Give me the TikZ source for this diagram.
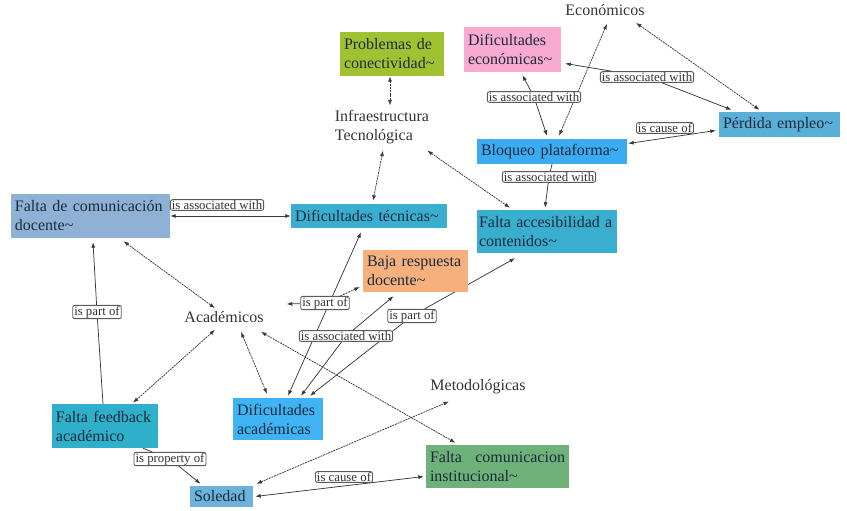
\documentclass[tikz,border=0pt]{standalone}
\usepackage{fontspec}
\setmainfont{Liberation Serif}
\usetikzlibrary{arrows.meta,backgrounds}
\definecolor{boxtext}{HTML}{1B2B3B}
\definecolor{plaintext}{HTML}{333333}
\definecolor{linec}{HTML}{3A3A3A}
\definecolor{lblborder}{HTML}{5A5A5A}
\definecolor{cprob}{HTML}{A0C132}
\definecolor{cpink}{HTML}{F8AAD0}
\definecolor{cbloq}{HTML}{3CACF2}
\definecolor{cperd}{HTML}{5AAFD6}
\definecolor{cteal}{HTML}{3AAECF}
\definecolor{cfcd}{HTML}{8FB1D6}
\definecolor{cbaja}{HTML}{F5B07E}
\definecolor{cffb}{HTML}{30AFCB}
\definecolor{cdacad}{HTML}{3FB3F4}
\definecolor{cfci}{HTML}{6EB27A}
\definecolor{csol}{HTML}{6CB2DA}
\begin{document}
\begin{tikzpicture}[x=1pt,y=-1pt,
  >={Latex[length=5.5pt,width=4pt]},
  box/.style={rectangle, inner xsep=4pt, inner ysep=2pt, align=left,
    font=\fontsize{16}{19}\selectfont, text=boxtext},
  plain/.style={inner sep=1pt, align=left,
    font=\fontsize{16}{19}\selectfont, text=plaintext},
  lbl/.style={draw=lblborder, line width=0.9pt, rounded corners=2pt, fill=white,
    inner xsep=1.5pt, inner ysep=0.8pt, font=\fontsize{12.8}{14}\selectfont, text=plaintext},
  con/.style={draw=linec, line width=0.75pt},
  dotcon/.style={con, dash pattern=on 2pt off 0.8pt}
]
\useasboundingbox (0,0) rectangle (847,511);

% concept boxes
\node[box, fill=cprob, minimum width=104pt, text width=96pt, minimum height=44pt] (prob) at (392,54) {Problemas de\\conectividad\textasciitilde};
\node[box, fill=cpink, minimum width=97pt, text width=89pt, minimum height=45pt] (difeco) at (512.5,49.5) {Dificultades\\económicas\textasciitilde};
\node[box, fill=cbloq, minimum width=150pt, text width=142pt, minimum height=25pt] (bloq) at (552,151.5) {Bloqueo plataforma\textasciitilde};
\node[box, fill=cperd, minimum width=121pt, text width=113pt, minimum height=25pt] (perd) at (779.5,124.5) {Pérdida empleo\textasciitilde};
\node[box, fill=cteal, minimum width=140pt, text width=136pt, inner xsep=2pt, minimum height=43pt] (facc) at (547,231.5) {\mbox{Falta accesibilidad a}\\contenidos\textasciitilde};
\node[box, fill=cfcd, minimum width=159pt, text width=151pt, minimum height=44pt] (fcd) at (90.5,216) {Falta de comunicación\\docente\textasciitilde};
\node[box, fill=cteal, minimum width=156pt, text width=148pt, minimum height=24pt] (dtec) at (369,216) {Dificultades técnicas\textasciitilde};
\node[box, fill=cbaja, minimum width=105pt, text width=97pt, minimum height=42pt] (baja) at (415.5,271) {Baja respuesta\\docente\textasciitilde};
\node[box, fill=cffb, minimum width=106pt, text width=98pt, minimum height=44pt] (ffb) at (105,426) {Falta feedback\\académico};
\node[box, fill=cdacad, minimum width=90pt, text width=82pt, minimum height=42pt] (dacad) at (278,419) {Dificultades\\académicas};
\node[box, fill=cfci, minimum width=143pt, text width=135pt, minimum height=43pt] (fci) at (497.5,466.5) {Falta\hfill comunicacion\\institucional\textasciitilde};
\node[box, fill=csol, minimum width=63pt, text width=55pt, minimum height=21pt] (sol) at (221.5,496.5) {Soledad};

% plain concepts
\node[plain] (infra) at (382,127.5) {Infraestructura\\Tecnológica};
\node[plain] (eco) at (605,10) {Económicos};
\node[plain] (acad) at (224,317) {Académicos};
\node[plain] (met) at (478,387) {Metodológicas};

% linking phrases
\node[lbl] (l1) at (217,205) {is associated with};
\node[lbl] (l2) at (534,97) {is associated with};
\node[lbl] (l3) at (647,77) {is associated with};
\node[lbl] (l4) at (665,128) {is cause of};
\node[lbl] (l5) at (549,177) {is associated with};
\node[lbl] (l6) at (97,312) {is part of};
\node[lbl] (l7) at (325,303) {is part of};
\node[lbl] (l8) at (346,336) {is associated with};
\node[lbl] (l9) at (412,316) {is part of};
\node[lbl] (l10) at (170,459) {is property of};
\node[lbl] (l11) at (344,477) {is cause of};

% connectors (behind labels)
\begin{scope}[on background layer]
% cross links
\draw[dotcon,<->] ([xshift=-2pt]prob.south) -- ([xshift=8pt,yshift=4pt]infra.north);
\draw[dotcon,<->] ([xshift=1pt,yshift=-5pt]infra.south) -- ([xshift=4pt,yshift=3pt]dtec.north);
\draw[dotcon,<->] ([xshift=-3pt,yshift=-5pt]infra.south east) -- ([xshift=-37pt,yshift=2pt]facc.north);
\draw[dotcon,<->] ([xshift=2pt,yshift=-7pt]eco.south) -- ([xshift=7pt,yshift=3pt]bloq.north);
\draw[dotcon,<->] ([xshift=31pt,yshift=-6pt]eco.south) -- ([xshift=-20pt,yshift=2pt]perd.north);
\draw[dotcon,<->] ([xshift=33pt,yshift=-3pt]fcd.south) -- ([xshift=-9pt,yshift=2pt]acad.north);
\draw[dotcon,<->] ([xshift=-9pt,yshift=-6pt]acad.south) -- ([xshift=28pt,yshift=1pt]ffb.north);
\draw[dotcon,<->] ([xshift=17pt,yshift=-8pt]acad.south) -- ([xshift=-11pt,yshift=4pt]dacad.north);
\draw[dotcon,<->] ([xshift=37pt,yshift=-8pt]acad.south) -- ([xshift=-42pt,yshift=2pt]fci.north);
\draw[dotcon,<->] ([xshift=35pt,yshift=2pt]sol.north) -- ([xshift=-29pt,yshift=-6pt]met.south);
\draw[con,<->] ([xshift=10pt,yshift=2pt]dacad.north) -- ([xshift=-8pt,yshift=-4pt]dtec.south);
% linked propositions
\draw[con,<->] (fcd.east) -- (dtec.west);
\draw[con,<-] ([xshift=10pt,yshift=-3pt]difeco.south) -- (l2);
\draw[con,->] (l2) -- ([xshift=-5pt,yshift=3pt]bloq.north);
\draw[con,<-] ([xshift=4pt,yshift=-14pt]difeco.east) -- (l3);
\draw[con,->] (l3) -- ([xshift=-48pt,yshift=2pt]perd.north);
\draw[con,<->] ([xshift=1pt,yshift=8pt]bloq.east) -- ([xshift=-3pt,yshift=-6pt]perd.west);
\draw[con] (bloq.south) -- (l5);
\draw[con,->] (l5) -- ([xshift=-2pt,yshift=2pt]facc.north);
\draw[con,->] (l6) -- ([xshift=2.5pt,yshift=-4pt]fcd.south);
\draw[con] (l6) -- ([xshift=-2pt]ffb.north);
\draw[dotcon,->] (l7) -- ([xshift=-3pt,yshift=-16pt]baja.west);
\draw[con,->] (l7) -- ([xshift=22pt,yshift=13pt]acad.east);
\draw[con,<-] ([xshift=23pt,yshift=2pt]dacad.north) -- (l8);
\draw[con,->] (l8) -- ([xshift=-22pt,yshift=-4pt]baja.south);
\draw[con,<-] ([xshift=32pt,yshift=2pt]dacad.north) -- (l9);
\draw[con,->] (l9) -- ([xshift=-32pt,yshift=-5pt]facc.south);
\draw[con] ([xshift=38pt]ffb.south) -- (l10);
\draw[con,->] (l10) -- ([xshift=-21pt,yshift=2pt]sol.north);
\draw[con,<->] ([xshift=2pt]sol.east) -- ([xshift=-2pt,yshift=-10pt]fci.west);
\end{scope}
\end{tikzpicture}
\end{document}
